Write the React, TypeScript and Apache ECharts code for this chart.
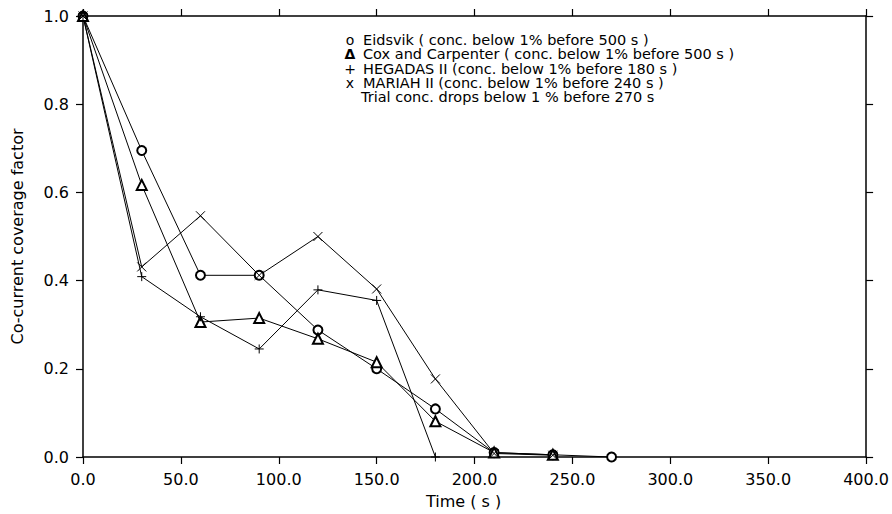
import React, { useEffect, useRef } from "react";
import * as echarts from "echarts";

const times = [0, 30, 60, 90, 120, 150, 180, 210, 240, 270];
const eidsvik = [1.0, 0.695, 0.412, 0.412, 0.288, 0.2, 0.109, 0.01, 0.005, 0.0];
const coxCarpenter = [1.0, 0.617, 0.306, 0.315, 0.268, 0.215, 0.081, 0.01, 0.005, null];
const hegadas = [1.0, 0.409, 0.318, 0.245, 0.379, 0.355, 0.0, null, null, null];
const mariah = [1.0, 0.431, 0.547, 0.412, 0.5, 0.381, 0.177, 0.008, 0.004, null];

const xTicks = { min: 0, max: 400, interval: 50 };
const yTicks = { min: 0, max: 1, interval: 0.2 };

const legendLines = [
  { sym: "o", text: "Eidsvik ( conc. below 1% before 500 s )" },
  { sym: "Δ", text: "Cox and Carpenter ( conc. below 1% before 500 s )" },
  { sym: "+", text: "HEGADAS II (conc. below 1% before 180 s )" },
  { sym: "x", text: "MARIAH II (conc. below 1% before 240 s )" },
  { sym: "", text: "Trial conc. drops below 1 % before 270 s" },
];

const FONT = "DejaVu Sans";

const pair = (ys: (number | null)[]) =>
  times.map((t, i) => [t, ys[i]]).filter((p) => p[1] !== null);

export default function App() {
  const ref = useRef<HTMLDivElement>(null);
  useEffect(() => {
    if (!ref.current) return;
    const chart = echarts.init(ref.current, undefined, { renderer: "svg" });
    const axisCommon = {
      axisLine: { show: true, onZero: false, lineStyle: { color: "#000", width: 1.5 } },
      axisTick: { show: true, inside: false, length: 7, lineStyle: { color: "#000", width: 1.2 } },
      splitLine: { show: false },
    };
    const lineSeries = (name: string, data: any[], symbol: string, size: number) => ({
      name,
      type: "line",
      data,
      symbol,
      symbolSize: size,
      showSymbol: true,
      lineStyle: { color: "#000", width: 1 },
      itemStyle: { color: "#000", borderColor: "#000", borderWidth: 1 },
      z: 3,
    });
    chart.setOption({
      animation: false,
      backgroundColor: "#fff",
      textStyle: { fontFamily: FONT },
      grid: { left: 83, right: 17, top: 16, bottom: 55, containLabel: false },
      xAxis: [
        {
          type: "value",
          position: "bottom",
          ...xTicks,
          ...axisCommon,
          name: "Time ( s )",
          nameLocation: "middle",
          nameGap: 36,
          nameTextStyle: { fontSize: 16, color: "#000", fontFamily: FONT, padding: [0, 22, 0, 0] },
          axisLabel: {
            show: true,
            margin: 14,
            fontSize: 16,
            color: "#000",
            fontFamily: FONT,
            formatter: (v: number) => v.toFixed(1),
          },
        },
        {
          type: "value",
          position: "top",
          ...xTicks,
          ...axisCommon,
          axisLabel: { show: false },
        },
      ],
      yAxis: [
        {
          type: "value",
          position: "left",
          ...yTicks,
          ...axisCommon,
          name: "Co-current coverage factor",
          nameLocation: "middle",
          nameGap: 58,
          nameTextStyle: { fontSize: 16, color: "#000", fontFamily: FONT },
          axisLabel: {
            show: true,
            margin: 14,
            fontSize: 16,
            color: "#000",
            fontFamily: FONT,
            formatter: (v: number) => v.toFixed(1),
          },
        },
        {
          type: "value",
          position: "right",
          ...yTicks,
          ...axisCommon,
          axisLabel: { show: false },
        },
      ],
      series: [
        lineSeries("Eidsvik", pair(eidsvik), "emptyCircle", 9),
        lineSeries("Cox and Carpenter", pair(coxCarpenter), "emptyTriangle", 10),
        lineSeries("HEGADAS II", pair(hegadas), "path://M5,0L5,10M0,5L10,5", 9),
        lineSeries("MARIAH II", pair(mariah), "path://M0,0L10,10M10,0L0,10", 9),
      ],
      graphic: legendLines.flatMap((l, i) => {
        const y = 40 + i * 14.3;
        const items: any[] = [];
        if (l.sym) {
          items.push({
            type: "text",
            x: 350,
            y,
            style: {
              text: l.sym,
              fontSize: 14,
              lineHeight: 13,
              fontFamily: FONT,
              fill: "#000",
              align: "center",
              verticalAlign: "middle",
              fontWeight: l.sym === "Δ" ? "bold" : "normal",
            },
          });
        }
        items.push({
          type: "text",
          x: l.sym ? 363 : 361,
          y,
          style: {
            text: l.text,
            fontSize: 14.5,
            lineHeight: 13,
            fontFamily: FONT,
            fill: "#000",
            align: "left",
            verticalAlign: "middle",
          },
        });
        return items;
      }),
    });
    return () => chart.dispose();
  }, []);
  return (
    <div
      ref={ref}
      style={{ position: "fixed", left: 0, top: 0, width: 892, height: 514, background: "#fff" }}
    />
  );
}
